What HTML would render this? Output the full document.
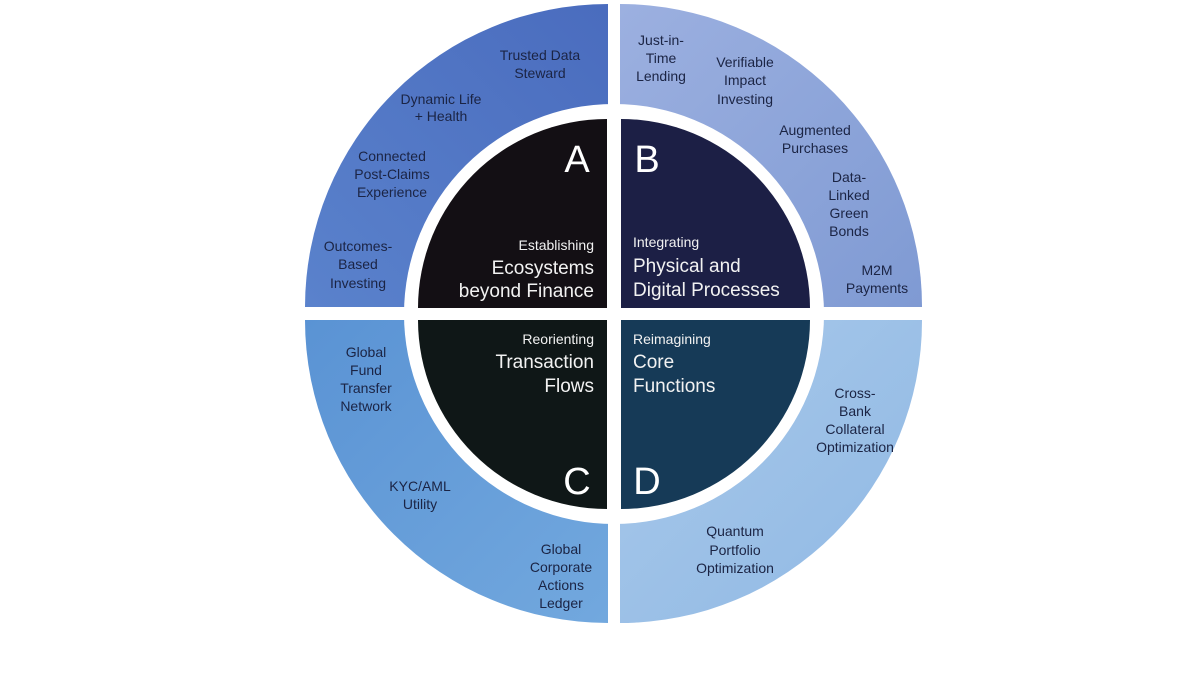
<!DOCTYPE html>
<html><head><meta charset="utf-8"><style>
html,body{margin:0;padding:0;background:#fff;}
svg{display:block;}
text{font-family:"Liberation Sans",sans-serif;}
.o{font-size:14px;fill:#1b2444;text-anchor:middle;}
.s{font-size:14px;fill:#f2f2f2;}
.b{font-size:19px;fill:#f2f2f2;}
.L{font-size:38px;fill:#fff;text-anchor:middle;}
</style></head><body>
<svg width="1200" height="675" viewBox="0 0 1200 675" xmlns="http://www.w3.org/2000/svg">
<defs>
<linearGradient id="gtl" x1="0" y1="1" x2="1" y2="0"><stop offset="0" stop-color="#5a82cc"/><stop offset="1" stop-color="#4a6cbe"/></linearGradient>
<linearGradient id="gtr" x1="0" y1="0" x2="1" y2="1"><stop offset="0" stop-color="#9cb0e0"/><stop offset="1" stop-color="#7f9ad3"/></linearGradient>
<linearGradient id="gbl" x1="0" y1="0" x2="1" y2="1"><stop offset="0" stop-color="#5a93d4"/><stop offset="1" stop-color="#72a8de"/></linearGradient>
<linearGradient id="gbr" x1="0" y1="0" x2="1" y2="1"><stop offset="0" stop-color="#a9c9ea"/><stop offset="1" stop-color="#8fb8e4"/></linearGradient>
</defs>
<path d="M608,307 L305,307 A303,303 0 0 1 608,4 Z" fill="url(#gtl)"/>
<path d="M620,307 L620,4 A302,302 0 0 1 922,307 Z" fill="url(#gtr)"/>
<path d="M608,320 L608,623 A303,303 0 0 1 305,320 Z" fill="url(#gbl)"/>
<path d="M620,320 L922,320 A302,302 0 0 1 620,623 Z" fill="url(#gbr)"/>
<circle cx="614" cy="314" r="210" fill="#fff"/>
<path d="M607,308 L418,308 A189,189 0 0 1 607,119 Z" fill="#130f14"/>
<path d="M621,308 L621,119 A189,189 0 0 1 810,308 Z" fill="#1c1f45"/>
<path d="M607,320 L607,509 A189,189 0 0 1 418,320 Z" fill="#0f1717"/>
<path d="M621,320 L810,320 A189,189 0 0 1 621,509 Z" fill="#163a57"/>

<text class="L" x="577" y="172">A</text>
<text class="L" x="647" y="172">B</text>
<text class="L" x="577" y="494">C</text>
<text class="L" x="647" y="494">D</text>

<g text-anchor="end">
<text class="s" x="594" y="250">Establishing</text>
<text class="b" x="594" y="274">Ecosystems</text>
<text class="b" x="594" y="297">beyond Finance</text>
<text class="s" x="594" y="344">Reorienting</text>
<text class="b" x="594" y="368">Transaction</text>
<text class="b" x="594" y="392">Flows</text>
</g>
<g text-anchor="start">
<text class="s" x="633" y="247">Integrating</text>
<text class="b" x="633" y="272">Physical and</text>
<text class="b" x="633" y="296">Digital Processes</text>
<text class="s" x="633" y="344">Reimagining</text>
<text class="b" x="633" y="368">Core</text>
<text class="b" x="633" y="392">Functions</text>
</g>

<g class="o">
<text class="o" x="540" y="60">Trusted Data</text><text class="o" x="540" y="78">Steward</text>
<text class="o" x="441" y="104">Dynamic Life</text><text class="o" x="441" y="121">+ Health</text>
<text class="o" x="392" y="161">Connected</text><text class="o" x="392" y="179">Post-Claims</text><text class="o" x="392" y="197">Experience</text>
<text class="o" x="358" y="251">Outcomes-</text><text class="o" x="358" y="269">Based</text><text class="o" x="358" y="288">Investing</text>

<text class="o" x="661" y="45">Just-in-</text><text class="o" x="661" y="63">Time</text><text class="o" x="661" y="81">Lending</text>
<text class="o" x="745" y="67">Verifiable</text><text class="o" x="745" y="85">Impact</text><text class="o" x="745" y="104">Investing</text>
<text class="o" x="815" y="135">Augmented</text><text class="o" x="815" y="153">Purchases</text>
<text class="o" x="849" y="182">Data-</text><text class="o" x="849" y="200">Linked</text><text class="o" x="849" y="218">Green</text><text class="o" x="849" y="236">Bonds</text>
<text class="o" x="877" y="275">M2M</text><text class="o" x="877" y="293">Payments</text>

<text class="o" x="366" y="357">Global</text><text class="o" x="366" y="375">Fund</text><text class="o" x="366" y="393">Transfer</text><text class="o" x="366" y="411">Network</text>
<text class="o" x="420" y="491">KYC/AML</text><text class="o" x="420" y="509">Utility</text>
<text class="o" x="561" y="554">Global</text><text class="o" x="561" y="572">Corporate</text><text class="o" x="561" y="590">Actions</text><text class="o" x="561" y="608">Ledger</text>

<text class="o" x="855" y="398">Cross-</text><text class="o" x="855" y="416">Bank</text><text class="o" x="855" y="434">Collateral</text><text class="o" x="855" y="452">Optimization</text>
<text class="o" x="735" y="536">Quantum</text><text class="o" x="735" y="555">Portfolio</text><text class="o" x="735" y="573">Optimization</text>
</g>
</svg>
</body></html>
